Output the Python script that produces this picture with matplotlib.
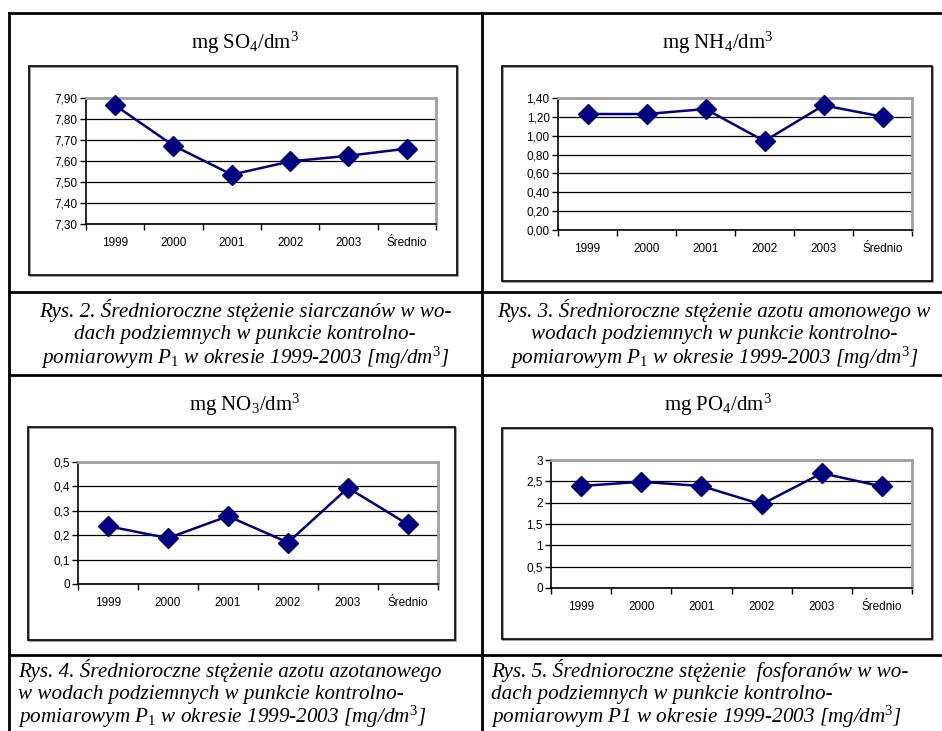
import matplotlib
matplotlib.use("Agg")
import matplotlib.pyplot as plt
from matplotlib.patches import Rectangle

plt.rcParams['mathtext.fontset'] = 'custom'
plt.rcParams['mathtext.rm'] = 'Liberation Serif'
plt.rcParams['mathtext.it'] = 'Liberation Serif:italic'

# data
categories = ['1999', '2000', '2001', '2002', '2003', 'Średnio']
so4 = [7.865, 7.673, 7.535, 7.598, 7.625, 7.659]
nh4 = [1.23, 1.23, 1.283, 0.943, 1.322, 1.202]
no3 = [0.237, 0.188, 0.278, 0.17, 0.394, 0.244]
po4 = [2.39, 2.49, 2.39, 1.96, 2.69, 2.38]

so4_ticks = [7.30, 7.40, 7.50, 7.60, 7.70, 7.80, 7.90]
nh4_ticks = [0.0, 0.2, 0.4, 0.6, 0.8, 1.0, 1.2, 1.4]
no3_ticks = [0, 0.1, 0.2, 0.3, 0.4, 0.5]
po4_ticks = [0, 0.5, 1, 1.5, 2, 2.5, 3]

titles = [r'mg SO$_4$/dm$^3$', r'mg NH$_4$/dm$^3$',
          r'mg NO$_3$/dm$^3$', r'mg PO$_4$/dm$^3$']

captions = [
    ['Rys. 2. Średnioroczne stężenie siarczanów w wo-',
     'dach podziemnych w punkcie kontrolno-',
     r'pomiarowym $\mathit{P}_{\mathit{1}}$ w okresie 1999-2003 [mg/dm$^{\mathit{3}}$]'],
    ['Rys. 3. Średnioroczne stężenie azotu amonowego w',
     'wodach podziemnych w punkcie kontrolno-',
     r'pomiarowym $\mathit{P}_{\mathit{1}}$ w okresie 1999-2003 [mg/dm$^{\mathit{3}}$]'],
    ['Rys. 4. Średnioroczne stężenie azotu azotanowego',
     'w wodach podziemnych w punkcie kontrolno-',
     r'pomiarowym $\mathit{P}_{\mathit{1}}$ w okresie 1999-2003 [mg/dm$^{\mathit{3}}$]'],
    ['Rys. 5. Średnioroczne stężenie  fosforanów w wo-',
     'dach podziemnych w punkcie kontrolno-',
     r'pomiarowym P1 w okresie 1999-2003 [mg/dm$^{\mathit{3}}$]'],
]

W, H = 942, 731
fig = plt.figure(figsize=(W / 100, H / 100), dpi=100)
bg = fig.add_axes([0, 0, 1, 1])
bg.set_xlim(0, W)
bg.set_ylim(H, 0)
bg.axis('off')

# table grid
lw_tab = 2.0
bg.plot([9, 9], [13, H], color='black', lw=lw_tab)
bg.plot([482, 482], [13, H], color='black', lw=lw_tab)
for y in [13, 292, 375, 655]:
    bg.plot([9, W], [y, y], color='black', lw=lw_tab)

# chart frames (x0, y0, x1, y1) in pixels
frames = [(29, 66, 457, 275), (502, 66, 932, 281),
          (28, 427, 455, 640), (502, 428, 932, 639)]
for x0, y0, x1, y1 in frames:
    bg.add_patch(Rectangle((x0 + 1, y0 + 1), x1 - x0, y1 - y0, fill=False,
                           edgecolor='#909090', lw=1.2))
    bg.add_patch(Rectangle((x0, y0), x1 - x0, y1 - y0, fill=False,
                           edgecolor='black', lw=1.2))

title_pos = [(245, 43), (718, 43), (245, 405), (718, 405)]
for (tx, ty), t in zip(title_pos, titles):
    bg.text(tx, ty, t, ha='center', va='center', fontsize=15,
            family='Liberation Serif')

# captions
for i, cap in enumerate(captions[:2]):
    cx = [245, 714][i]
    for j, line in enumerate(cap):
        bg.text(cx, [311, 335, 358][j], line, ha='center', va='center',
                fontsize=15.2, style='italic', family='Liberation Serif')
for i, cap in enumerate(captions[2:]):
    lx = [18, 491][i]
    for j, line in enumerate(cap):
        bg.text(lx, [671, 695, 717][j], line, ha='left', va='center',
                fontsize=15.2, style='italic', family='Liberation Serif')

# plot areas (x0, y0, x1, y1) in pixels
areas = [(86, 98, 436, 224), (558, 98, 912, 230),
         (78, 462, 438, 584), (551, 460, 912, 588)]
series = [so4, nh4, no3, po4]
ticks = [so4_ticks, nh4_ticks, no3_ticks, po4_ticks]
fmts = ['{:.2f}', '{:.2f}', '{:g}', '{:g}']

for (x0, y0, x1, y1), vals, tk, fmt in zip(areas, series, ticks, fmts):
    ax = fig.add_axes([x0 / W, 1 - y1 / H, (x1 - x0) / W, (y1 - y0) / H])
    xs = list(range(len(categories)))
    ax.plot(xs, vals, color='#000080', lw=1.8, marker='D', markersize=10,
            markerfacecolor='#000080', markeredgecolor='#000080', zorder=3,
            clip_on=False)
    ax.set_xlim(-0.5, len(categories) - 0.5)
    ax.set_ylim(tk[0], tk[-1])
    ax.set_yticks(tk)
    ax.set_yticklabels([fmt.format(v).replace('.', ',') for v in tk],
                       family='Liberation Sans', fontsize=8.5)
    ax.set_xticks([i - 0.5 for i in range(len(categories) + 1)])
    ax.set_xticklabels([])
    ax.set_xticks(xs, minor=True)
    ax.set_xticklabels(categories, minor=True, family='Liberation Sans',
                       fontsize=8.5)
    ax.tick_params(axis='x', which='major', direction='out', length=4,
                   width=1, color='black')
    ax.tick_params(axis='x', which='minor', length=0, pad=9)
    ax.tick_params(axis='y', direction='out', length=4, width=1, pad=2)
    ax.yaxis.grid(True, color='black', lw=0.9)
    ax.set_axisbelow(True)
    ax.spines['left'].set_color('black')
    ax.spines['bottom'].set_color('black')
    ax.spines['left'].set_linewidth(1.2)
    ax.spines['bottom'].set_linewidth(1.2)
    for s in ['top', 'right']:
        ax.spines[s].set_color('#a0a0a0')
        ax.spines[s].set_linewidth(2)

fig.savefig('out.png', dpi=100)
